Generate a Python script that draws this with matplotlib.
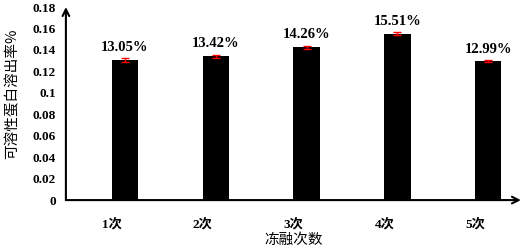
import matplotlib.pyplot as plt
import matplotlib.transforms as mtransforms
import numpy as np

plt.rcParams['font.family'] = ['Liberation Serif', 'Noto Sans CJK SC']

categories = ["1次", "2次", "3次", "4次", "5次"]
values = [0.1305, 0.1342, 0.1426, 0.1551, 0.1299]
errors = [0.0018, 0.0015, 0.0014, 0.0014, 0.0009]
labels = ["13.05%", "13.42%", "14.26%", "15.51%", "12.99%"]

fig = plt.figure(figsize=(5.23, 2.52), dpi=100)
ax = fig.add_axes([0.126, 0.206, 0.87, 0.766])

x = np.arange(len(categories))
ax.bar(x, values, width=0.29, color='black')
ax.errorbar(x, values, yerr=errors, fmt='none', ecolor='red', elinewidth=1, capsize=3, capthick=1)

for xi, v, e, lab in zip(x, values, errors, labels):
    ax.text(xi, v + e + 0.004, lab, ha='center', va='bottom', fontsize=10.5, fontweight='bold')

ax.set_xlim(-0.65, 4.36)
ax.set_ylim(0, 0.18)
ax.set_yticks(np.arange(0, 0.181, 0.02))
ax.set_yticklabels(["0", "0.02", "0.04", "0.06", "0.08", "0.1", "0.12", "0.14", "0.16", "0.18"])
ax.set_xticks(x)
ax.set_xticklabels(categories)
ax.tick_params(length=0, labelsize=9.5, pad=7)
ax.tick_params(axis='x', pad=13)
shift = mtransforms.ScaledTranslation(-0.13, 0, fig.dpi_scale_trans)
for t in ax.get_xticklabels():
    t.set_transform(t.get_transform() + shift)
for t in ax.get_yticklabels() + ax.get_xticklabels():
    t.set_fontweight('bold')

for s in ax.spines.values():
    s.set_visible(False)

# axis arrows
ax.annotate('', xy=(0, 1.0), xytext=(0, 0), xycoords='axes fraction',
            arrowprops=dict(arrowstyle='->', lw=1.5, color='black', shrinkA=0, shrinkB=0, mutation_scale=12))
ax.annotate('', xy=(1.0, 0), xytext=(0, 0), xycoords='axes fraction',
            arrowprops=dict(arrowstyle='->', lw=1.5, color='black', shrinkA=0, shrinkB=0, mutation_scale=12))

ax.set_ylabel("可溶性蛋白溶出率%", fontsize=10.5, family=['Noto Sans CJK SC'])
ax.yaxis.set_label_coords(-0.102, 0.55)
ax.set_xlabel("冻融次数", fontsize=10.5, family=['Noto Sans CJK SC'], labelpad=2)

fig.savefig("out.png", dpi=100)
